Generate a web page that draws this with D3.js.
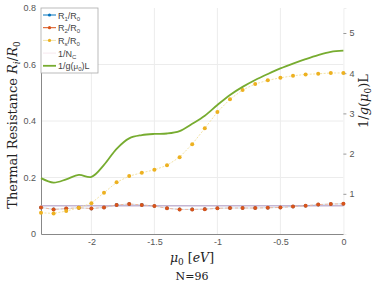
<!DOCTYPE html>
<html>
<head>
<meta charset="utf-8">
<script src="https://cdn.jsdelivr.net/npm/d3@7"></script>
<style>
  body { margin: 0; background: #fff; }
  .tick text { font-family: "Liberation Sans", Arial, sans-serif; font-size: 9px; fill: #555; }
  .serif { font-family: "DejaVu Serif", "Liberation Serif", serif; fill: #222; }
</style>
</head>
<body>
<div id="chart"></div>
<script>
// chemical potential mu0 [eV]
const mu = [-2.4, -2.3, -2.2, -2.1, -2.0, -1.9, -1.8, -1.7, -1.6, -1.5, -1.4, -1.3, -1.2,
            -1.1, -1.0, -0.9, -0.8, -0.7, -0.6, -0.5, -0.4, -0.3, -0.2, -0.1, 0];

const r2 = [0.094, 0.087, 0.090, 0.093, 0.090, 0.094, 0.103, 0.106, 0.103, 0.099, 0.091, 0.087, 0.087,
            0.088, 0.091, 0.092, 0.092, 0.092, 0.093, 0.094, 0.097, 0.100, 0.104, 0.106, 0.107];
const r1 = r2.slice();
const rs = [0.075, 0.073, 0.081, 0.093, 0.109, 0.146, 0.183, 0.205, 0.217, 0.227, 0.243, 0.272, 0.318,
            0.374, 0.432, 0.477, 0.510, 0.531, 0.544, 0.553, 0.560, 0.565, 0.567, 0.570, 0.570];
const invNc = 0.1;
// right axis series
const invGL = [1.39, 1.28, 1.36, 1.47, 1.42, 1.72, 2.12, 2.38, 2.46, 2.49, 2.50, 2.56, 2.74,
               2.94, 3.21, 3.46, 3.66, 3.83, 3.98, 4.12, 4.24, 4.35, 4.45, 4.53, 4.56];

const xTicks = [-2, -1.5, -1, -0.5, 0];
const yTicks = [0, 0.2, 0.4, 0.6, 0.8];
const y2Ticks = [1, 2, 3, 4, 5];

const W = 374, H = 290;
const L = 41, R = 343.4, T = 8, B = 234;

const svg = d3.select("#chart").append("svg")
    .attr("width", W).attr("height", H);

const x = d3.scaleLinear().domain([-2.4, 0]).range([L, R]);
const y = d3.scaleLinear().domain([0, 0.8]).range([B, T]);
const y2 = d3.scaleLinear().domain([0, 5.622]).range([B, T]);

// grid
svg.append("g").selectAll("line").data(xTicks.slice(0, 4)).join("line")
    .attr("x1", d => x(d)).attr("x2", d => x(d)).attr("y1", T).attr("y2", B)
    .attr("stroke", "#ececec").attr("stroke-width", 1);
svg.append("g").selectAll("line").data(yTicks.slice(1, 4)).join("line")
    .attr("x1", L).attr("x2", R).attr("y1", d => y(d)).attr("y2", d => y(d))
    .attr("stroke", "#ececec").attr("stroke-width", 1);

// axes
const xAxis = svg.append("g").attr("transform", `translate(0,${B})`)
    .call(d3.axisBottom(x).tickValues(xTicks).tickFormat(d => String(d)).tickSize(0).tickPadding(5));
xAxis.select(".domain").attr("stroke", "#888");

const yAxis = svg.append("g").attr("transform", `translate(${L},0)`)
    .call(d3.axisLeft(y).tickValues(yTicks).tickFormat(d => d === 0 ? "0" : d3.format(".1f")(d)).tickSize(0).tickPadding(5));
yAxis.select(".domain").attr("stroke", "#888");

const y2Axis = svg.append("g").attr("transform", `translate(${R},0)`)
    .call(d3.axisRight(y2).tickValues(y2Ticks).tickFormat(d => String(d)).tickSize(3).tickPadding(3));
y2Axis.select(".domain").attr("stroke", "#eee");
y2Axis.selectAll(".tick line").attr("stroke", "#999");

// 1/N_C line
svg.append("line")
    .attr("x1", x(-2.4)).attr("x2", x(0)).attr("y1", y(invNc)).attr("y2", y(invNc))
    .attr("stroke", "#c4b6d4").attr("stroke-width", 1.5);

const line = d3.line().x((d, i) => x(mu[i])).y(d => y(d));

// R1
svg.append("path").datum(r1).attr("d", line)
    .attr("fill", "none").attr("stroke", "#0072bd").attr("stroke-width", 0.5).attr("opacity", 0.4);
svg.append("g").selectAll("circle").data(r1).join("circle")
    .attr("cx", (d, i) => x(mu[i])).attr("cy", d => y(d)).attr("r", 1.8).attr("fill", "#0072bd");

// R2
svg.append("path").datum(r2).attr("d", line)
    .attr("fill", "none").attr("stroke", "#f0b8a0").attr("stroke-width", 1).attr("stroke-dasharray", "3,2");
svg.append("g").selectAll("circle").data(r2).join("circle")
    .attr("cx", (d, i) => x(mu[i])).attr("cy", d => y(d)).attr("r", 2).attr("fill", "#d95319");

// Rs
svg.append("path").datum(rs).attr("d", line)
    .attr("fill", "none").attr("stroke", "#f3e3a6").attr("stroke-width", 1).attr("stroke-dasharray", "2,1.5");
svg.append("g").selectAll("circle").data(rs).join("circle")
    .attr("cx", (d, i) => x(mu[i])).attr("cy", d => y(d)).attr("r", 2).attr("fill", "#edb120");

// 1/g(mu0)L
svg.append("path").datum(invGL)
    .attr("d", d3.line().x((d, i) => x(mu[i])).y(d => y2(d)).curve(d3.curveCatmullRom.alpha(0.5)))
    .attr("fill", "none").attr("stroke", "#77ac30").attr("stroke-width", 1.8);

// legend
const lg = svg.append("g");
lg.append("rect").attr("x", L).attr("y", T).attr("width", 57).attr("height", 65)
    .attr("fill", "#fff").attr("stroke", "#aaa").attr("stroke-width", 0.8);
const items = [
  {c: "#0072bd", dot: true, lw: 1, main: "R", sub: "1", rest: "/R", sub2: "0"},
  {c: "#d95319", dot: true, lw: 1, main: "R", sub: "2", rest: "/R", sub2: "0"},
  {c: "#f3e3a6", dot: true, dc: "#edb120", lw: 1, main: "R", sub: "s", rest: "/R", sub2: "0"},
  {c: "#f6e8ee", dot: false, lw: 1, main: "1/N", sub: "C", rest: "", sub2: ""},
  {c: "#77ac30", dot: false, lw: 1.8, main: "1/g(", mu: true}
];
items.forEach((it, i) => {
  const yy = 15 + i * 12.7;
  lg.append("line").attr("x1", 43).attr("x2", 56).attr("y1", yy).attr("y2", yy)
      .attr("stroke", it.c).attr("stroke-width", it.lw);
  if (it.dot) lg.append("circle").attr("cx", 49.5).attr("cy", yy).attr("r", 1.6).attr("fill", it.dc || it.c);
  const t = lg.append("text").attr("x", 58).attr("y", yy + 3.5)
      .style("font-family", "Liberation Sans, Arial, sans-serif").style("font-size", "9px").attr("fill", "#444");
  if (it.mu) {
    t.append("tspan").text("1/g(");
    t.append("tspan").text("μ").style("font-size", "8px");
    t.append("tspan").text("0").attr("dy", 2).style("font-size", "6px");
    t.append("tspan").text(")L").attr("dy", -2);
  } else {
    t.append("tspan").text(it.main);
    t.append("tspan").text(it.sub).attr("dy", 2).style("font-size", "6px");
    if (it.rest) {
      t.append("tspan").text(it.rest).attr("dy", -2);
      t.append("tspan").text(it.sub2).attr("dy", 2).style("font-size", "6px");
    }
  }
});

// axis titles
const yl = svg.append("text").attr("class", "serif")
    .attr("transform", `translate(17,${(T + B) / 2 + 4}) rotate(-90)`)
    .attr("text-anchor", "middle").style("font-size", "13px");
yl.append("tspan").text("Thermal Resistance ");
yl.append("tspan").text("R").style("font-style", "italic");
yl.append("tspan").text("i").attr("dy", 3).style("font-size", "9px").style("font-style", "italic");
yl.append("tspan").text("/").attr("dy", -3);
yl.append("tspan").text("R").style("font-style", "italic");
yl.append("tspan").text("0").attr("dy", 3).style("font-size", "9px");

const yr = svg.append("text").attr("class", "serif")
    .attr("transform", `translate(368,101) rotate(-90)`)
    .attr("text-anchor", "middle").style("font-size", "13px");
yr.append("tspan").text("1/");
yr.append("tspan").text("g").style("font-style", "italic");
yr.append("tspan").text("(");
yr.append("tspan").text("μ").style("font-style", "italic");
yr.append("tspan").text("0").attr("dy", 3).style("font-size", "9px");
yr.append("tspan").text(")L").attr("dy", -3);

const xl = svg.append("text").attr("class", "serif")
    .attr("x", 192).attr("y", 262).attr("text-anchor", "middle").style("font-size", "12.5px");
xl.append("tspan").text("μ").style("font-style", "italic");
xl.append("tspan").text("0").attr("dy", 3).style("font-size", "9px");
xl.append("tspan").text(" [").attr("dy", -3);
xl.append("tspan").text("eV").style("font-style", "italic");
xl.append("tspan").text("]");

svg.append("text").attr("class", "serif")
    .attr("x", 192).attr("y", 280).attr("text-anchor", "middle").style("font-size", "11px")
    .text("N=96");
</script>
</body>
</html>
